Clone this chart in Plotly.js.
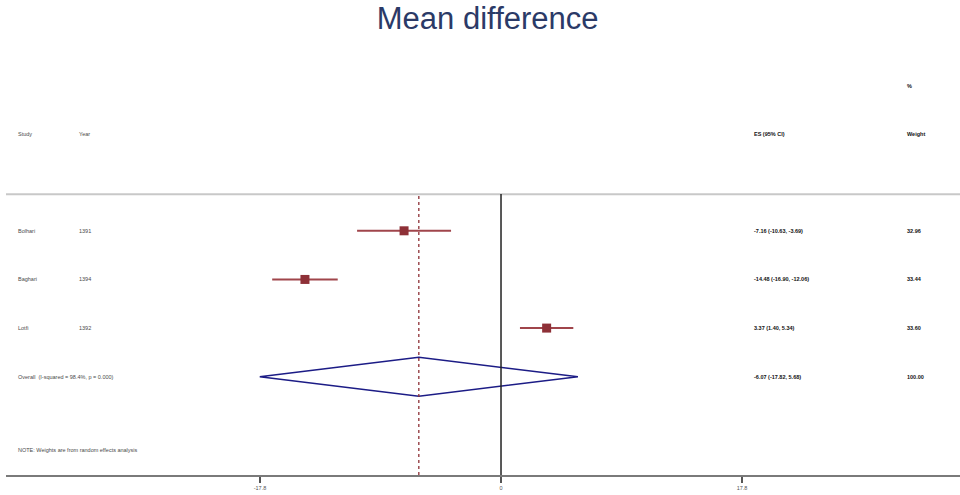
<!DOCTYPE html>
<html>
<head>
<meta charset="utf-8">
<script src="https://cdn.plot.ly/plotly-3.0.1.min.js"></script>
<style>html,body{margin:0;padding:0;background:#fff;}#chart{width:960px;height:495px;}</style>
</head>
<body>
<div id="chart"></div>
<script>
const studies = ["Bolhari", "Baghari", "Lotfi"];
const years = ["1391", "1394", "1392"];
const es = [-7.16, -14.48, 3.37];
const lo = [-10.63, -16.90, 1.40];
const hi = [-3.69, -12.06, 5.34];
const weights = ["32.96", "33.44", "33.60"];
const overallLabel = "Overall  (I-squared = 98.4%, p = 0.000)";
const overallES = -6.07, overallLo = -17.82, overallHi = 5.68;
const overallWeight = "100.00";
const tickVals = [-17.8, 0, 17.8];
const tickText = ["-17.8", "0", "17.8"];
const note = "NOTE: Weights are from random effects analysis";

const rows = studies.map((_, i) => i + 1);
const overallRow = studies.length + 1;
const fmt = v => v.toFixed(2);

const red = "#8e3037", lineRed = "#a0454b", navy = "#1c1c86";
const traces = [];
studies.forEach((s, i) => {
  traces.push({x: [lo[i], hi[i]], y: [rows[i], rows[i]], mode: "lines",
    line: {color: lineRed, width: 2}, hoverinfo: "skip", showlegend: false});
});
traces.push({x: es, y: rows, mode: "markers", type: "scatter",
  marker: {symbol: "square", size: 9, color: red}, showlegend: false});
traces.push({x: [overallLo, overallES, overallHi, overallES, overallLo],
  y: [overallRow, overallRow - 0.4, overallRow, overallRow + 0.4, overallRow],
  mode: "lines", line: {color: navy, width: 1.5}, showlegend: false});

const tf = {family: "Liberation Sans, Arial, sans-serif", size: 5.5, color: "#4a4a4a"};
const vf = {family: "Liberation Sans, Arial, sans-serif", size: 5.5, color: "#111"};
const px = p => (p - 6) / 954;
const ann = [];
function add(text, xp, y, font) {
  ann.push({text, x: px(xp), xref: "paper", y, yref: "y", xanchor: "left", yanchor: "middle", showarrow: false, font});
}
add("Study", 16, -1, tf); add("Year", 77, -1, tf);
add("<b>ES (95% CI)</b>", 752, -1, vf); add("<b>Weight</b>", 905, -1, vf); add("<b>%</b>", 905, -1.98, vf);
studies.forEach((s, i) => {
  add(s, 16, rows[i], tf); add(years[i], 77, rows[i], tf);
  add(`<b>${fmt(es[i])} (${fmt(lo[i])}, ${fmt(hi[i])})</b>`, 752, rows[i], vf);
  add(`<b>${weights[i]}</b>`, 905, rows[i], vf);
});
add(overallLabel, 16, overallRow, tf);
add(`<b>${fmt(overallES)} (${fmt(overallLo)}, ${fmt(overallHi)})</b>`, 752, overallRow, vf);
add(`<b>${overallWeight}</b>`, 905, overallRow, vf);
add(note, 16, overallRow + 1.5, tf);

const shapes = [
  {type: "line", xref: "paper", yref: "y", x0: 0, x1: 1, y0: 0.25, y1: 0.25, line: {color: "#c8c8c8", width: 2}},
  {type: "line", xref: "x", yref: "paper", x0: 0, x1: 0, y0: 0, y1: 0.652, line: {color: "#222", width: 1.5}},
  {type: "line", xref: "x", yref: "paper", x0: overallES, x1: overallES, y0: 0, y1: 0.652, line: {color: red, width: 1.3, dash: "3px,3px"}}
];

const layout = {
  width: 960, height: 495,
  margin: {l: 6, r: 0, t: 44, b: 20},
  paper_bgcolor: "#fff", plot_bgcolor: "#fff",
  title: {text: "Mean difference", x: 0.508, xanchor: "center", y: 0.963, yanchor: "middle",
    font: {family: "Liberation Sans, Arial, sans-serif", size: 31, color: "#2b3a67"}},
  xaxis: {range: [-36.56, 33.9], showgrid: false, zeroline: false, showline: true, linecolor: "#7a7a7a", linewidth: 2,
    tickmode: "array", tickvals: tickVals, ticktext: tickText, ticks: "outside", ticklen: 6, tickwidth: 2, tickcolor: "#555",
    tickfont: {family: "Liberation Sans, Arial, sans-serif", size: 5.5, color: "#555"}, fixedrange: true},
  yaxis: {range: [6.02, -2.84], visible: false, showgrid: false, zeroline: false, fixedrange: true},
  annotations: ann, shapes: shapes, showlegend: false
};
Plotly.newPlot("chart", traces, layout, {staticPlot: true, displayModeBar: false});
</script>
</body>
</html>
